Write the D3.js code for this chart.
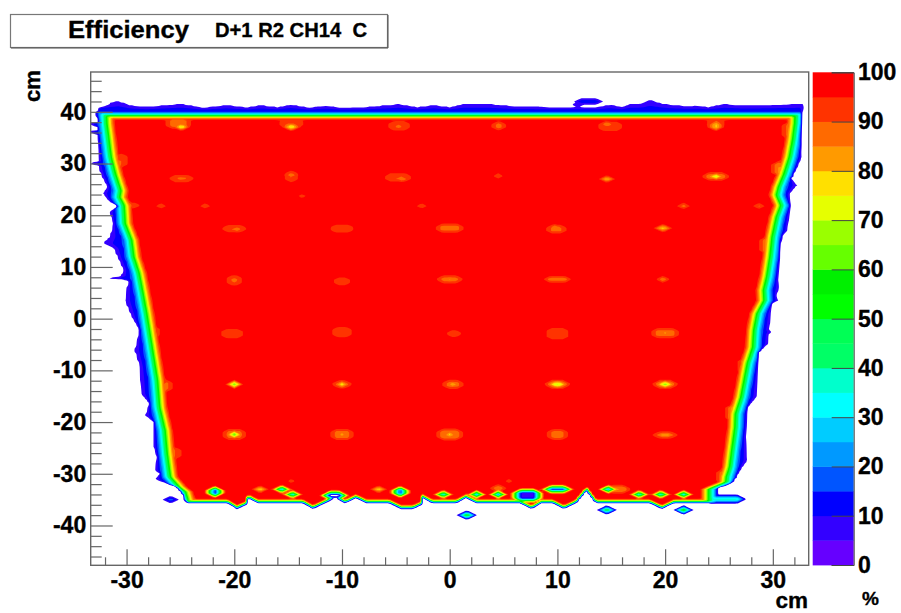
<!DOCTYPE html>
<html><head><meta charset="utf-8">
<script src="https://cdn.jsdelivr.net/npm/d3@7/dist/d3.min.js"></script>
<style>
html,body{margin:0;padding:0;background:#fff}
svg{display:block}
text{font-family:"Liberation Sans",Arial,sans-serif;font-weight:bold;fill:#000;stroke:#000;stroke-width:.35px;white-space:pre}
</style></head><body><div id="c"></div>
<script>
// ---- values (cm, %) ----
const xTicks=[-30,-20,-10,0,10,20,30];
const yTicks=[-40,-30,-20,-10,0,10,20,30,40];
const zTicks=[0,10,20,30,40,50,60,70,80,90,100];
const xMinor=d3.range(-32,33,2);
const yMinor=d3.range(-46,47,2);
const levels=d3.range(0,100,5);
const levelColors=["#6600ff","#3300ff","#0000ff","#0055ff","#0099ff","#00ccff","#00ffff","#00ffcc","#00ff66","#00ff55","#00ff00","#00f000","#66ff00","#9aff00","#e6ff00","#ffe000","#ff9a00","#ff6a00","#ff3300","#ff0000"];
// green (50 %) line of the left and right flanks: y, x
const leftMidY=[42,37.75,34.55,31.25,28,24.8,23.5,21.9,18.4,15.2,12,8.75,5.5,1,-5.5,-11.95,-17.1,-21.6,-26.1,-30.6,-32.5,-33.5,-34.9,-38];
const leftMidX=[-32,-31.9,-31.7,-31.5,-31.1,-30.6,-30.7,-30.3,-30.2,-29.6,-29.4,-28.9,-28.6,-28.2,-27.7,-27.2,-27,-26.5,-26.3,-26,-25.2,-24.6,-24.4,-24.4];
const rightMidY=[42,37.75,34.55,31.25,28,25.5,23.9,21.9,19.7,15.8,12,8.1,5.5,3.5,1,-2.2,-5.5,-8.65,-11.95,-15.2,-18.4,-21,-24.8,-28.7,-30.6,-31.6,-32.5,-33,-38];
const rightMidX=[32.2,32.1,31.9,31.6,31.1,30.6,30.4,30.8,30.4,30,29.8,29.5,29.2,29.25,28.6,28.3,28.2,27.7,27.4,27.1,26.6,26.55,26.3,26.05,25.75,25.7,24.6,24.1,24.1];
// outer (5 %) limit of the flanks: y, x
const leftOutY=[41.5,40.8,39.6,38.3,37.9,37.75,37.4,37.1,36.5,36.25,35.9,35.6,34.55,32.65,30.4,30.2,29.85,29.6,28.7,27.4,25.5,24.2,22.6,21.8,20.6,18.4,15.8,14.6,13.6,10.7,9.35,8.2,7.8,7.45,7.1,6.1,3.5,0.3,-2.2,-6.15,-9.35,-14.5,-16.4,-18.7,-20,-24.8,-26.8,-29.3,-30,-31.1,-32.5,-33.8,-35.4,-38];
const leftOutX=[-31.6,-32.5,-32.9,-32.6,-32.7,-33.4,-33.4,-32.7,-32.7,-33.4,-33.4,-32.7,-32.7,-32.6,-32.6,-33.4,-33.4,-32.6,-32.55,-32.3,-31.8,-32.25,-31.6,-30.8,-31.6,-31.25,-31.6,-32.3,-31.25,-30.6,-30.3,-30.6,-32,-30,-29.8,-30,-30.2,-29.55,-28.8,-29.3,-28.8,-28.7,-27.9,-28.3,-27.5,-27.5,-27.2,-27.4,-26.9,-27.4,-25.4,-24.8,-24.5,-24.5];
const rightOutY=[42,37.75,34.55,31.25,29.35,27.1,25.8,24.2,21,17.1,15.8,11.3,7.4,6.1,4.5,3.5,2.9,-2.2,-2.6,-3,-4.85,-6.45,-11.95,-15.2,-17.1,-22.9,-27.4,-28.7,-30.6,-31.9,-32.8,-38];
const rightOutX=[32.8,32.7,32.6,32.7,32.3,31.7,32.3,31.6,31.6,31.4,30.8,30.6,30.5,30.6,30.4,30.5,29.9,29.7,30,29.7,29.6,28.7,28.6,28.5,27.7,27.5,27.7,27.2,26.6,26.15,24.8,24.8];
// outer limit of the top and bottom edges: x, y
const topX=[-33.5,-32.5,-30.8,-29.7,-28.2,-24.9,-22.9,-20.7,-18.8,-17.6,-16,-14.7,-13,-11.6,-10.1,-7.8,-4.7,-3,-1.5,0,1.2,3.7,5.9,9.3,11.3,13.65,14.9,15.95,16.7,17.85,18.6,19.7,20.75,22.1,22.9,24,25.4,27.5,30.7,32.7,33.5];
const topY=[41.2,41.3,42.2,41.3,41,41.6,40.85,41.35,40.9,41.35,40.95,41.45,40.85,41.25,40.85,40.95,41.55,40.95,41.35,40.95,41.55,41.55,41.15,40.95,40.95,40.95,41.45,40.95,41.55,41.65,42.35,41.65,41.35,41.15,41.25,40.95,41.55,41.25,41.45,41.55,41.55];
const bottomX=[-33.5,-20.6,-19.75,-19,-18.7,-17.8,-13.6,-12.7,-11.1,-10.6,-10.3,-9.7,-8.7,-7.7,-5.6,-4.5,-3.4,-2.7,-2.5,-1.6,0.6,1.5,2.5,6.5,7.6,8.5,9.6,10.6,11.7,12.7,13.6,18.6,19.7,20.8,33.5];
const bottomY=[-35.7,-35.7,-36.8,-36.1,-34.7,-35.7,-35.7,-36.8,-35.2,-34.4,-35,-35.7,-34.7,-35.7,-35.7,-36.8,-36.8,-36.1,-34.7,-35.7,-35.7,-34.7,-35.7,-35.7,-36.8,-35.7,-35.7,-36.8,-35.7,-33.2,-35.7,-35.7,-36.8,-35.7,-35.7];
// low-efficiency spots inside the active area: x, y, %, half width, half height
const spots=[
[-24.9,37.1,68,0,0],[-25.2,37.8,88,.6,.5],[-14.7,37.1,72,.1,0],[-14.7,37.8,90,.6,.4],[-4.7,37.3,90,.5,.4],[-4.7,37.1,86,0,0],[4.55,37.3,88,.1,.3],[14.6,37.6,82,0,0],[14.9,37.2,90,.6,.4],[24.7,37.3,78,0,.3],[24.7,37.9,90,.3,.5],
[-24.9,27.1,90,.6,.2],[-24.9,27.1,85,0,0],[-14.7,27.5,90,.1,.6],[-14.7,27.8,84,0,0],[-4.8,27.3,90,.7,.3],[-4.4,27,84,0,0],[4.5,27.6,90,0,0],[14.6,27,78,0,0],[24.7,27.5,86,.6,.2],[24.7,27.5,68,0,0],
[-26.8,21.8,90,0,0],[-22.7,21.8,90,0,0],[-13.7,23.7,92,0,0],[-2.6,21.8,90,0,0],[21.7,21.8,86,0,0],[28.7,21.8,88,0,0],
[-20,17.4,90,.6,.2],[-19.8,17.3,84,0,0],[-10,17.4,91,.6,.3],[0,17.5,88,.7,.3],[0,17.6,84,.3,0],[9.9,17.3,89,.4,.3],[9.8,17.6,82,0,0],[19.8,17.5,78,.1,0],
[-20,7.4,90,.2,.5],[-20,7.4,84,0,0],[-10,7.2,91,.3,.3],[0,7.6,88,.6,.2],[0,7.6,83,.2,0],[10,7.6,86,.7,0],[19.8,7.6,84,0,0],
[-20.2,-2.9,90,.5,.4],[-10,-2.6,90,.4,.5],[.4,-2.9,91,.2,.2],[10,-2.9,90,.5,.6],[20,-2.8,88,.7,.4],[20,-2.8,82,0,0],
[-20,-12.7,62,0,0],[-10,-12.7,88,.3,.2],[-10,-12.7,74,0,0],[.3,-12.7,88,.4,.3],[.3,-12.7,78,0,0],[10,-12.7,85,.5,.2],[10,-12.7,68,.2,0],[20,-12.7,85,.5,.2],[20,-12.7,64,.1,0],
[-20,-22.4,88,.5,.5],[-20,-22.4,58,0,0],[-10,-22.4,88,.5,.5],[-10,-22.4,80,0,0],[0,-22.4,86,.6,.5],[0,-22.4,76,0,0],[10,-22.4,88,.4,.5],[10,-22.4,84,0,0],[20,-22.5,88,.6,.1],[20,-22.5,82,.3,0],
[-21.8,-33.5,10,0,.3],[-17.6,-33,75,0,0],[-15.6,-33,22,0,0],[-14.6,-34,25,0,0],[-6.6,-33,75,0,0],[-4.6,-33.5,10,0,.3],[-.6,-34,25,0,0],[2.5,-34,25,0,0],[4.5,-34,20,0,0],[4.5,-32.8,85,.1,.1],[7.2,-34.2,8,.6,.5],[10,-33,12,.6,0],[14.7,-33,18,0,0],[15.6,-33,85,.5,.2],[17.6,-34,25,0,0],[19.6,-34,25,0,0],[21.7,-34,25,0,0],[5.5,-31.4,92,0,0],[-14.7,-31.4,92,0,0],[-10.7,-34.2,0,.4,.1],
[-30.5,30.6,90,.1,.8],[-27.5,-2.6,88,0,.6],[-26.3,-13,88,0,.6],[-25.5,-26,90,.1,.6],[-29.5,21.9,90,.3,0],[31.4,36.4,88,0,1],[30.5,29,85,0,.8],[29.4,14.2,85,0,1],[27.4,-9.2,85,0,1],[26.3,-18.2,82,0,1],[25.4,-30.5,85,0,.8]];
// islands outside the active area: x, y, %, half width, half height
const islands=[[-25.9,-35,20,0,0],[1.6,-38,60,0,0],[14.6,-37,55,0,0],[21.7,-37,60,0,0],[25.4,-34.9,40,1.3,0],[12.9,42,14,.7,0],[11.9,41.4,12,0,0]];
// ---- layout ----
const W=901,H=613;
const x=d3.scaleLinear([-33.33,33.33],[90.7,808.7]);
const y=d3.scaleLinear([-47.7,47.7],[565.3,72]);
const z=d3.scaleLinear([0,100],[565,72.3]);
const svg=d3.select("#c").append("svg").attr("width",W).attr("height",H);
// title box
svg.append("rect").attr("x",10.5).attr("y",14.5).attr("width",377).attr("height",33).attr("fill","#fff").attr("stroke","#777").attr("stroke-width",1.2);
svg.append("path").attr("d","M11,48 H388 V15").attr("fill","none").attr("stroke","#555").attr("stroke-width",1);
svg.append("text").attr("x",68).attr("y",37.5).attr("font-size",24).attr("textLength",121).attr("lengthAdjust","spacingAndGlyphs").text("Efficiency");
svg.append("text").attr("x",215).attr("y",37).attr("font-size",20).attr("textLength",152).attr("lengthAdjust","spacingAndGlyphs").text("D+1 R2 CH14  C");
// ---- efficiency surface ----
const step=.25, x0=-33.25, yTop=43.5;
const nx=Math.round(66.5/step)+1, ny=Math.round(83/step)+1;
const pw=(dom,ran)=>d3.scaleLinear(dom,ran).clamp(true);
const lM=pw(leftMidY,leftMidX), lO=pw(leftOutY,leftOutX), rM=pw(rightMidY,rightMidX), rO=pw(rightOutY,rightOutX);
const tE=pw(topX,topY), bE=pw(bottomX,bottomY);
function flank(o,g){ // distance-from-outside profile of one flank
  const a=Math.max(o+.05,g-.75),b=Math.max(a+.02,g-.4),c=Math.max(b+.02,g),d=c+.35,e=c+.8,f=c+1;
  return pw([o-.08,o,a,b,c,d,e,f],[0,5,15,30,50,75,96,100]);
}
const kernel=(s,px,py)=>{
  const dx=Math.max(0,Math.abs(px-s[0])-s[3]),dy=Math.max(0,Math.abs(py-s[1])-s[4]);
  return Math.max(0,1-dx-dy);
};
const topProfile=t=>pw([t+.08,t,40,39.6,39.3,39,38.75,38.4,38.2],[0,5,15,30,50,70,85,96,100]);
const botProfile=b=>pw([b-.06,b,b+.12,b+.25,b+.38,b+.5,b+.65,b+.85,b+1],[0,5,15,30,50,70,85,96,100]);
const grid=new Float64Array(nx*ny);
const tops=d3.range(nx).map(i=>topProfile(tE(x0+i*step)));
const bots=d3.range(nx).map(i=>botProfile(bE(x0+i*step)));
for(let j=0;j<ny;j++){
  const py=yTop-j*step;
  const L=flank(lO(py),lM(py)), R=flank(-rO(py),-rM(py));
  for(let i=0;i<nx;i++){
    const px=x0+i*step;
    let v=Math.min(L(px),R(-px),tops[i](py),bots[i](py));
    for(const s of islands){const k=kernel(s,px,py); if(k>0) v=Math.max(v,s[2]*k);}
    for(const s of spots){const k=kernel(s,px,py); if(k>0) v=Math.min(v,100-(100-s[2])*k);}
    grid[j*nx+i]=v;
  }
}
const contours=d3.contours().size([nx,ny]).thresholds(levels.slice(1))(grid);
const path=d3.geoPath(d3.geoTransform({point(gx,gy){
  this.stream.point(x(x0+(gx-.5)*step),y(yTop-(gy-.5)*step));
}}));
svg.append("clipPath").attr("id","plot").append("rect").attr("x",x.range()[0]).attr("y",y.range()[1]).attr("width",x.range()[1]-x.range()[0]).attr("height",y.range()[0]-y.range()[1]);
svg.append("g").attr("clip-path","url(#plot)").selectAll("path").data(contours).join("path")
  .attr("d",path).attr("fill",d=>levelColors[levels.indexOf(d.value)]);
// ---- frame and axes ----
const fmt=d=>String(d);
const styleAxis=g=>{g.selectAll("line,path").attr("stroke","#666").attr("stroke-width",1.2);g.selectAll("text").attr("font-size",23).attr("fill","#000");g.attr("font-family",null)};
svg.append("rect").attr("x",90.7).attr("y",72).attr("width",718).attr("height",493.3).attr("fill","none").attr("stroke","#666").attr("stroke-width",1.4);
svg.append("g").attr("transform","translate(0,565.3)").call(d3.axisBottom(x).tickValues(xMinor.filter(d=>d%10)).tickSize(-8).tickFormat("")).call(styleAxis).select(".domain").remove();
svg.append("g").attr("transform","translate(0,565.3)").call(d3.axisBottom(x).tickValues(xTicks).tickSize(-16).tickPadding(6).tickFormat(fmt)).call(styleAxis).select(".domain").remove();
svg.append("g").attr("transform","translate(90.7,0)").call(d3.axisLeft(y).tickValues(yMinor.filter(d=>d%10)).tickSize(-11).tickFormat("")).call(styleAxis).select(".domain").remove();
svg.append("g").attr("transform","translate(90.7,0)").call(d3.axisLeft(y).tickValues(yTicks).tickSize(-22).tickPadding(4.5).tickFormat(fmt)).call(styleAxis).select(".domain").remove();
svg.append("text").attr("x",808).attr("y",608).attr("text-anchor","end").attr("font-size",22.5).text("cm");
svg.append("text").attr("transform","translate(40,102) rotate(-90)").attr("font-size",22).text("cm");
// ---- palette ----
svg.append("g").selectAll("rect").data(levels).join("rect")
  .attr("x",812.7).attr("width",41).attr("y",d=>z(d+5)).attr("height",d=>z(d)-z(d+5)+.4).attr("fill",(d,i)=>levelColors[i]);
svg.append("g").attr("transform","translate(853.7,0)").call(d3.axisRight(z).tickValues(zTicks).tickSize(-22).tickPadding(4.3).tickFormat(fmt)).call(g=>{g.selectAll("line,path").attr("stroke","#444").attr("stroke-width",1);g.selectAll("text").attr("font-size",23).attr("fill","#000");g.attr("font-family",null)});
svg.append("text").attr("x",862).attr("y",605).attr("font-size",19).text("%");
</script></body></html>
